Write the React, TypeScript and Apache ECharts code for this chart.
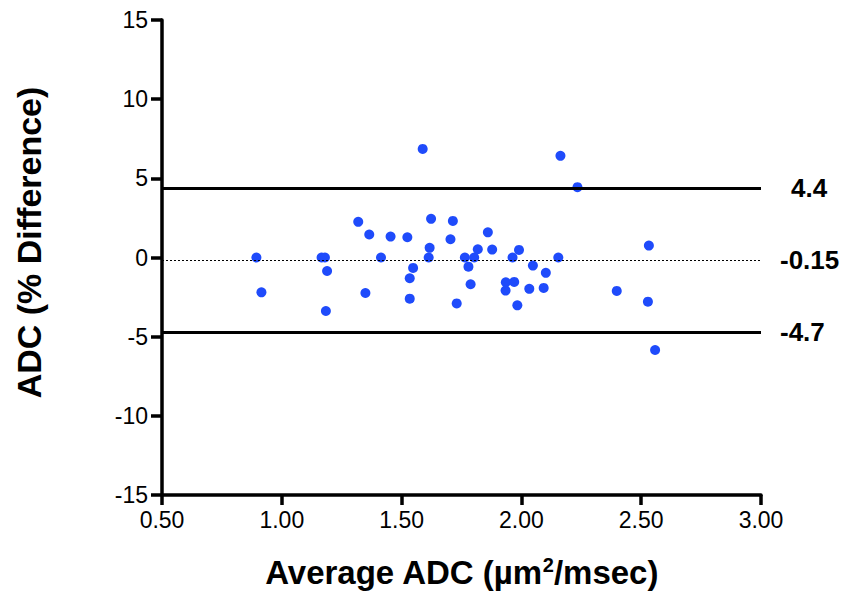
import React, { useEffect, useRef } from "react";
import * as echarts from "echarts";

const avgADC = [
  0.894, 0.915, 1.166, 1.18, 1.189, 1.184, 1.319, 1.365, 1.349, 1.414,
  1.454, 1.524, 1.534, 1.534, 1.548, 1.588, 1.623, 1.617, 1.613, 1.714,
  1.704, 1.73, 1.764, 1.779, 1.803, 1.818, 1.788, 1.86, 1.878, 1.935,
  1.97, 1.934, 1.963, 1.99, 1.983, 2.048, 2.033, 2.102, 2.093, 2.154,
  2.163, 2.234, 2.398, 2.532, 2.528, 2.558,
];
const pctDiff = [
  0, -2.2, 0, 0, -0.85, -3.38, 2.25, 1.45, -2.24, 0,
  1.32, 1.28, -2.6, -1.31, -0.66, 6.86, 2.44, 0.61, 0, 2.31,
  1.15, -2.9, 0, -0.58, 0, 0.52, -1.69, 1.59, 0.5, -1.57,
  -1.54, -2.09, 0, 0.48, -3.02, -0.51, -1.98, -0.97, -1.92, 0,
  6.42, 4.44, -2.11, 0.75, -2.79, -5.84,
];
const upperLoA = 4.4;
const meanBias = -0.15;
const lowerLoA = -4.7;

const FONT = "'Liberation Sans', Arial, sans-serif";

export default function App() {
  const ref = useRef<HTMLDivElement>(null);
  useEffect(() => {
    if (!ref.current) return;
    const chart = echarts.init(ref.current, null, { renderer: "svg" });
    const points = avgADC.map((x, i) => [x, pctDiff[i]]);
    const labelStyle = {
      show: true,
      position: "end",
      color: "#000",
      fontSize: 26,
      fontWeight: "bold",
      fontFamily: FONT,
    };
    chart.setOption({
      animation: false,
      backgroundColor: "#fff",
      textStyle: { fontFamily: FONT },
      grid: { left: 162, right: 88, top: 20, bottom: 101, containLabel: false },
      xAxis: {
        type: "value",
        min: 0.5,
        max: 3.0,
        interval: 0.5,
        name: "Average ADC (µm{sup|2}/msec)",
        nameLocation: "middle",
        nameGap: 60,
        nameTextStyle: {
          color: "#000",
          fontSize: 33,
          fontWeight: "bold",
          fontFamily: FONT,
          rich: {
            sup: {
              fontSize: 20,
              fontWeight: "bold",
              fontFamily: FONT,
              color: "#000",
              padding: [0, 0, 15, 0],
            },
          },
        },
        axisLine: { show: true, onZero: false, lineStyle: { color: "#000", width: 3.5 } },
        axisTick: { show: true, length: 10, lineStyle: { color: "#000", width: 3.5 } },
        axisLabel: {
          color: "#000",
          fontSize: 23,
          fontFamily: FONT,
          margin: 13,
          formatter: (v: number) => v.toFixed(2),
        },
        splitLine: { show: false },
      },
      yAxis: {
        type: "value",
        min: -15,
        max: 15,
        interval: 5,
        name: "ADC (% Difference)",
        nameLocation: "middle",
        nameGap: 116,
        nameTextStyle: {
          color: "#000",
          fontSize: 34,
          fontWeight: "bold",
          fontFamily: FONT,
          padding: [0, 0, 0, 30],
        },
        axisLine: { show: true, onZero: false, lineStyle: { color: "#000", width: 3.5 } },
        axisTick: { show: true, length: 11, lineStyle: { color: "#000", width: 3.5 } },
        axisLabel: { color: "#000", fontSize: 23, fontFamily: FONT, margin: 14 },
        splitLine: { show: false },
      },
      series: [
        {
          type: "scatter",
          data: points,
          symbol: "circle",
          symbolSize: 10,
          itemStyle: { color: "#1F4BFB", opacity: 1 },
          z: 3,
          markLine: {
            silent: true,
            symbol: ["none", "none"],
            animation: false,
            data: [
              {
                yAxis: upperLoA,
                lineStyle: { color: "#000", width: 3, type: "solid" },
                label: { ...labelStyle, distance: 30, formatter: String(upperLoA) },
              },
              {
                yAxis: meanBias,
                lineStyle: { color: "#000", width: 1.2, type: [2, 2] },
                label: { ...labelStyle, distance: 19, formatter: String(meanBias) },
              },
              {
                yAxis: lowerLoA,
                lineStyle: { color: "#000", width: 3, type: "solid" },
                label: { ...labelStyle, distance: 19, formatter: String(lowerLoA) },
              },
            ],
          },
        },
      ],
    });
    return () => chart.dispose();
  }, []);
  return <div ref={ref} style={{ width: 849, height: 596, position: "absolute", left: 0, top: 0 }} />;
}
